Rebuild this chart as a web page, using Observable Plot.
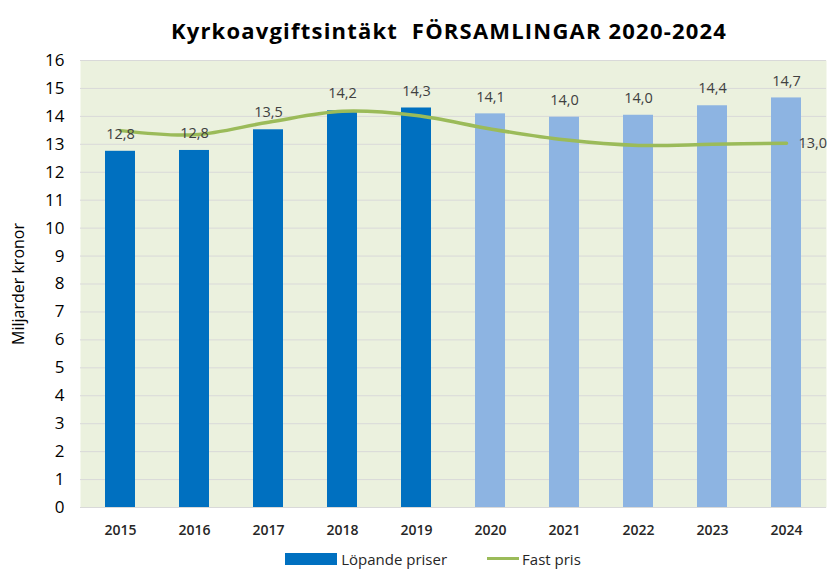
<!DOCTYPE html>
<html>
<head>
<meta charset="utf-8">
<script src="https://cdn.jsdelivr.net/npm/d3@7"></script>
<script src="https://cdn.jsdelivr.net/npm/@observablehq/plot@0.6"></script>
<style>
  body { margin: 0; background: #fff; font-family: "Open Sans", sans-serif; }
  #title { height: 48px; line-height: 60px; text-align: center; padding-left: 62px; font-weight: bold; font-size: 22px; letter-spacing: 1.2px; color: #000; box-sizing: border-box; width: 836px; }
  #legend { width: 836px; height: 21px; display: flex; justify-content: center; align-items: center; font-size: 15px; color: #262626; padding-left: 30px; box-sizing: border-box; }
  .sw { display: inline-block; }
</style>
</head>
<body>
<div id="title">Kyrkoavgiftsintäkt&nbsp; FÖRSAMLINGAR 2020-2024</div>
<div id="chart"></div>
<div id="legend">
  <span class="sw" style="width:52px;height:12px;background:#0070C0;margin-right:4px"></span><span>Löpande priser</span>
  <span class="sw" style="width:32px;height:3px;background:#9BBB59;margin-left:40px;margin-right:3px"></span><span>Fast pris</span>
</div>
<script>
const years = [2015, 2016, 2017, 2018, 2019, 2020, 2021, 2022, 2023, 2024];
const lopandePriser = [12.75, 12.78, 13.52, 14.2, 14.3, 14.09, 13.97, 14.04, 14.38, 14.66];
const lopandeLabels = ["12,8", "12,8", "13,5", "14,2", "14,3", "14,1", "14,0", "14,0", "14,4", "14,7"];
const fastPris = [13.49, 13.34, 13.79, 14.18, 14.03, 13.55, 13.16, 12.96, 13.0, 13.04];
const fastLabel = "13,0";
const yTicks = d3.range(0, 17);

const bars = years.map((y, i) => ({year: String(y), value: lopandePriser[i], label: lopandeLabels[i], actual: y <= 2019}));
const line = years.map((y, i) => ({year: String(y), value: fastPris[i]}));

const plot = Plot.plot({
  width: 836,
  height: 500,
  marginTop: 12,
  marginBottom: 41,
  marginLeft: 80,
  marginRight: 10,
  style: {fontFamily: "Open Sans, sans-serif", background: "transparent"},
  x: {domain: years.map(String), paddingInner: 0.6, paddingOuter: 0.3, label: null},
  y: {domain: [0, 16], ticks: yTicks, label: null},
  marks: [
    Plot.frame({fill: "#EBF1DE", stroke: null}),
    Plot.gridY(yTicks, {stroke: "#D9D9D9", strokeOpacity: 1}),
    Plot.barY(bars.filter(d => d.actual), {x: "year", y: "value", fill: "#0070C0"}),
    Plot.barY(bars.filter(d => !d.actual), {x: "year", y: "value", fill: "#8DB4E2"}),
    Plot.line(line, {x: "year", y: "value", stroke: "#9BBB59", strokeWidth: 3.5, curve: "catmull-rom"}),
    Plot.text(bars, {x: "year", y: "value", text: "label", dy: -17, fontSize: 14.5, fill: "#404040"}),
    Plot.text(line.slice(-1), {x: "year", y: "value", text: () => fastLabel, dx: 12, textAnchor: "start", fontSize: 14.5, fill: "#404040"}),
    Plot.axisY(yTicks, {tickSize: 0, tickPadding: 16, fontSize: 17, fill: "#000", tickFormat: d => String(d)}),
    Plot.axisX({tickSize: 0, tickPadding: 18, fontSize: 14, fontWeight: "600", fill: "#262626"}),
    Plot.text(["Miljarder kronor"], {frameAnchor: "left", textAnchor: "middle", rotate: -90, dx: -62, fontSize: 16, fill: "#000"})
  ]
});
document.getElementById("chart").appendChild(plot);
</script>
</body>
</html>
